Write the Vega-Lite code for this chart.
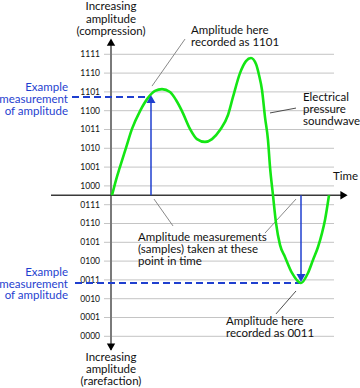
{
  "$schema": "https://vega.github.io/schema/vega-lite/v6.json",
  "width": 360,
  "height": 388,
  "autosize": {"type": "none"},
  "padding": 0,
  "background": "white",
  "config": {"view": {"stroke": null}, "text": {"font": "Lato"}},
  "datasets": {
    "levels": [
      {"amp": 15, "label": "1111"}, {"amp": 14, "label": "1110"}, {"amp": 13, "label": "1101"}, {"amp": 12, "label": "1100"},
      {"amp": 11, "label": "1011"}, {"amp": 10, "label": "1010"}, {"amp": 9, "label": "1001"}, {"amp": 8, "label": "1000"},
      {"amp": 7, "label": "0111"}, {"amp": 6, "label": "0110"}, {"amp": 5, "label": "0101"}, {"amp": 4, "label": "0100"},
      {"amp": 3, "label": "0011"}, {"amp": 2, "label": "0010"}, {"amp": 1, "label": "0001"}, {"amp": 0, "label": "0000"}
    ],
    "wave": [
      {"t": 1, "amp": 7.5}, {"t": 5, "amp": 8.31}, {"t": 9, "amp": 9.01}, {"t": 15, "amp": 10.02}, {"t": 21, "amp": 11.03},
      {"t": 29, "amp": 11.98}, {"t": 37, "amp": 12.68}, {"t": 44, "amp": 13.05}, {"t": 51, "amp": 13.15}, {"t": 59, "amp": 12.99},
      {"t": 65, "amp": 12.57}, {"t": 71, "amp": 11.98}, {"t": 79, "amp": 11.03}, {"t": 86, "amp": 10.49}, {"t": 94, "amp": 10.34},
      {"t": 101, "amp": 10.49}, {"t": 109, "amp": 10.97}, {"t": 117, "amp": 11.77}, {"t": 122, "amp": 12.73}, {"t": 129, "amp": 14.0},
      {"t": 135, "amp": 14.64}, {"t": 140, "amp": 14.8}, {"t": 145, "amp": 14.48}, {"t": 148, "amp": 13.9}, {"t": 151, "amp": 13.1},
      {"t": 154, "amp": 11.66}, {"t": 157, "amp": 10.44}, {"t": 159, "amp": 9.01}, {"t": 162, "amp": 7.5}, {"t": 165, "amp": 6.03},
      {"t": 169, "amp": 4.86}, {"t": 174, "amp": 4.22}, {"t": 181, "amp": 3.37}, {"t": 190, "amp": 2.835}, {"t": 197, "amp": 3.37},
      {"t": 202, "amp": 4.06}, {"t": 207, "amp": 4.75}, {"t": 211, "amp": 5.49}, {"t": 214, "amp": 6.19}, {"t": 218, "amp": 7.5}
    ],
    "axes": [
      {"t": 0, "amp": 15.76, "t2": 0, "amp2": -0.73, "kind": "vertical"},
      {"t": -60, "amp": 7.5, "t2": 231, "amp2": 7.5, "kind": "horizontal"}
    ],
    "arrows": [
      {"t": 0, "amp": 15.65, "dir": "up"},
      {"t": 0, "amp": -0.57, "dir": "down"},
      {"t": 233, "amp": 7.5, "dir": "right"}
    ],
    "samples": [
      {"t": 40, "amp": 7.5, "amp2": 12.41, "level": 12.73, "start": -39, "head": 12.62, "dir": "up"},
      {"t": 190, "amp": 7.5, "amp2": 3.31, "level": 2.835, "start": -36, "head": 3.1, "dir": "down"}
    ],
    "leaders": [
      {"t": 41, "amp": 13.31, "t2": 74, "amp2": 15.81, "tone": "light"},
      {"t": 159, "amp": 11.88, "t2": 185, "amp2": 12.14, "tone": "dark"},
      {"t": 43, "amp": 7.3, "t2": 62, "amp2": 5.87, "tone": "light"},
      {"t": 185, "amp": 7.3, "t2": 154, "amp2": 5.49, "tone": "light"},
      {"t": 185, "amp": 2.41, "t2": 165, "amp2": 1.19, "tone": "dark"}
    ],
    "texts": [
      {"t": 0, "amp": 17.49, "text": "Increasing", "kind": "title"},
      {"t": 0, "amp": 16.85, "text": "amplitude", "kind": "title"},
      {"t": 0, "amp": 16.21, "text": "(compression)", "kind": "title"},
      {"t": 0, "amp": -1.15, "text": "Increasing", "kind": "title"},
      {"t": 0, "amp": -1.79, "text": "amplitude", "kind": "title"},
      {"t": 0, "amp": -2.43, "text": "(rarefaction)", "kind": "title"},
      {"t": -43, "amp": 13.21, "text": "Example", "kind": "example"},
      {"t": -43, "amp": 12.57, "text": "measurement", "kind": "example"},
      {"t": -43, "amp": 11.93, "text": "of amplitude", "kind": "example"},
      {"t": -43, "amp": 3.37, "text": "Example", "kind": "example"},
      {"t": -43, "amp": 2.755, "text": "measurement", "kind": "example"},
      {"t": -43, "amp": 2.14, "text": "of amplitude", "kind": "example"},
      {"t": 80, "amp": 16.24, "text": "Amplitude here", "kind": "note"},
      {"t": 80, "amp": 15.6, "text": "recorded as 1101", "kind": "note"},
      {"t": 192, "amp": 12.68, "text": "Electrical", "kind": "note"},
      {"t": 192, "amp": 12.04, "text": "pressure", "kind": "note"},
      {"t": 192, "amp": 11.4, "text": "soundwave", "kind": "note"},
      {"t": 222, "amp": 8.47, "text": "Time", "kind": "note"},
      {"t": 27, "amp": 5.23, "text": "Amplitude measurements", "kind": "note"},
      {"t": 27, "amp": 4.59, "text": "(samples) taken at these", "kind": "note"},
      {"t": 27, "amp": 3.95, "text": "point in time", "kind": "note"},
      {"t": 115, "amp": 0.76, "text": "Amplitude here", "kind": "note"},
      {"t": 115, "amp": 0.12, "text": "recorded as 0011", "kind": "note"}
    ]
  },
  "layer": [
    {
      "data": {"name": "levels"},
      "mark": {"type": "rule", "color": "#c4c4c4", "strokeWidth": 1},
      "encoding": {
        "x": {"datum": -7, "type": "quantitative", "scale": {"domain": [-111, 249], "nice": false, "zero": false}, "axis": null},
        "x2": {"datum": 223},
        "y": {"field": "amp", "type": "quantitative", "scale": {"domain": [-2.75, 17.888], "nice": false, "zero": false}, "axis": null}
      }
    },
    {
      "data": {"name": "levels"},
      "mark": {"type": "text", "align": "right", "baseline": "middle", "fontSize": 8.5, "color": "#111"},
      "encoding": {
        "x": {"datum": -11, "type": "quantitative", "scale": {"domain": [-111, 249], "nice": false, "zero": false}, "axis": null},
        "y": {"field": "amp", "type": "quantitative", "scale": {"domain": [-2.75, 17.888], "nice": false, "zero": false}, "axis": null},
        "text": {"field": "label", "type": "nominal"}
      }
    },
    {
      "data": {"name": "axes"},
      "mark": {"type": "rule"},
      "encoding": {
        "x": {"field": "t", "type": "quantitative", "scale": {"domain": [-111, 249], "nice": false, "zero": false}, "axis": null},
        "x2": {"field": "t2"},
        "y": {"field": "amp", "type": "quantitative", "scale": {"domain": [-2.75, 17.888], "nice": false, "zero": false}, "axis": null},
        "y2": {"field": "amp2"},
        "color": {"field": "kind", "type": "nominal", "scale": {"domain": ["vertical", "horizontal"], "range": ["#7a7a7a", "#3a3a3a"]}, "legend": null},
        "strokeWidth": {"field": "kind", "type": "nominal", "scale": {"type": "ordinal", "domain": ["vertical", "horizontal"], "range": [2, 1.5]}, "legend": null}
      }
    },
    {
      "data": {"name": "arrows"},
      "mark": {"type": "point", "filled": true, "color": "#000", "size": 70, "opacity": 1},
      "encoding": {
        "x": {"field": "t", "type": "quantitative", "scale": {"domain": [-111, 249], "nice": false, "zero": false}, "axis": null},
        "y": {"field": "amp", "type": "quantitative", "scale": {"domain": [-2.75, 17.888], "nice": false, "zero": false}, "axis": null},
        "shape": {"field": "dir", "type": "nominal", "scale": {"domain": ["up", "down", "right"], "range": ["triangle-up", "triangle-down", "triangle-right"]}, "legend": null}
      }
    },
    {
      "data": {"name": "samples"},
      "mark": {"type": "rule", "color": "#1f3fcf", "strokeWidth": 2, "strokeDash": [7, 4]},
      "encoding": {
        "x": {"field": "start", "type": "quantitative", "scale": {"domain": [-111, 249], "nice": false, "zero": false}, "axis": null},
        "x2": {"field": "t"},
        "y": {"field": "level", "type": "quantitative", "scale": {"domain": [-2.75, 17.888], "nice": false, "zero": false}, "axis": null}
      }
    },
    {
      "data": {"name": "samples"},
      "mark": {"type": "rule", "color": "#1f3fcf", "strokeWidth": 1.5},
      "encoding": {
        "x": {"field": "t", "type": "quantitative", "scale": {"domain": [-111, 249], "nice": false, "zero": false}, "axis": null},
        "y": {"field": "amp", "type": "quantitative", "scale": {"domain": [-2.75, 17.888], "nice": false, "zero": false}, "axis": null},
        "y2": {"field": "amp2"}
      }
    },
    {
      "data": {"name": "leaders"},
      "mark": {"type": "rule", "strokeWidth": 0.9},
      "encoding": {
        "x": {"field": "t", "type": "quantitative", "scale": {"domain": [-111, 249], "nice": false, "zero": false}, "axis": null},
        "x2": {"field": "t2"},
        "y": {"field": "amp", "type": "quantitative", "scale": {"domain": [-2.75, 17.888], "nice": false, "zero": false}, "axis": null},
        "y2": {"field": "amp2"},
        "color": {"field": "tone", "type": "nominal", "scale": {"domain": ["light", "dark"], "range": ["#9a9a9a", "#222222"]}, "legend": null}
      }
    },
    {
      "data": {"name": "wave"},
      "mark": {"type": "line", "color": "#14e614", "strokeWidth": 2.6, "interpolate": "monotone"},
      "encoding": {
        "x": {"field": "t", "type": "quantitative", "scale": {"domain": [-111, 249], "nice": false, "zero": false}, "axis": null},
        "y": {"field": "amp", "type": "quantitative", "scale": {"domain": [-2.75, 17.888], "nice": false, "zero": false}, "axis": null}
      }
    },
    {
      "data": {"name": "samples"},
      "mark": {"type": "point", "filled": true, "color": "#1f3fcf", "size": 81, "opacity": 1},
      "encoding": {
        "x": {"field": "t", "type": "quantitative", "scale": {"domain": [-111, 249], "nice": false, "zero": false}, "axis": null},
        "y": {"field": "head", "type": "quantitative", "scale": {"domain": [-2.75, 17.888], "nice": false, "zero": false}, "axis": null},
        "shape": {"field": "dir", "type": "nominal", "scale": {"domain": ["up", "down", "right"], "range": ["triangle-up", "triangle-down", "triangle-right"]}, "legend": null}
      }
    },
    {
      "data": {"name": "texts"},
      "transform": [{"filter": "datum.kind === 'title'"}],
      "mark": {"type": "text", "align": "center", "baseline": "middle", "fontSize": 11.5, "color": "#111"},
      "encoding": {
        "x": {"field": "t", "type": "quantitative", "scale": {"domain": [-111, 249], "nice": false, "zero": false}, "axis": null},
        "y": {"field": "amp", "type": "quantitative", "scale": {"domain": [-2.75, 17.888], "nice": false, "zero": false}, "axis": null},
        "text": {"field": "text", "type": "nominal"}
      }
    },
    {
      "data": {"name": "texts"},
      "transform": [{"filter": "datum.kind === 'example'"}],
      "mark": {"type": "text", "align": "right", "baseline": "middle", "fontSize": 11.5, "color": "#1f3fcf"},
      "encoding": {
        "x": {"field": "t", "type": "quantitative", "scale": {"domain": [-111, 249], "nice": false, "zero": false}, "axis": null},
        "y": {"field": "amp", "type": "quantitative", "scale": {"domain": [-2.75, 17.888], "nice": false, "zero": false}, "axis": null},
        "text": {"field": "text", "type": "nominal"}
      }
    },
    {
      "data": {"name": "texts"},
      "transform": [{"filter": "datum.kind === 'note'"}],
      "mark": {"type": "text", "align": "left", "baseline": "middle", "fontSize": 11.5, "color": "#111"},
      "encoding": {
        "x": {"field": "t", "type": "quantitative", "scale": {"domain": [-111, 249], "nice": false, "zero": false}, "axis": null},
        "y": {"field": "amp", "type": "quantitative", "scale": {"domain": [-2.75, 17.888], "nice": false, "zero": false}, "axis": null},
        "text": {"field": "text", "type": "nominal"}
      }
    }
  ]
}
